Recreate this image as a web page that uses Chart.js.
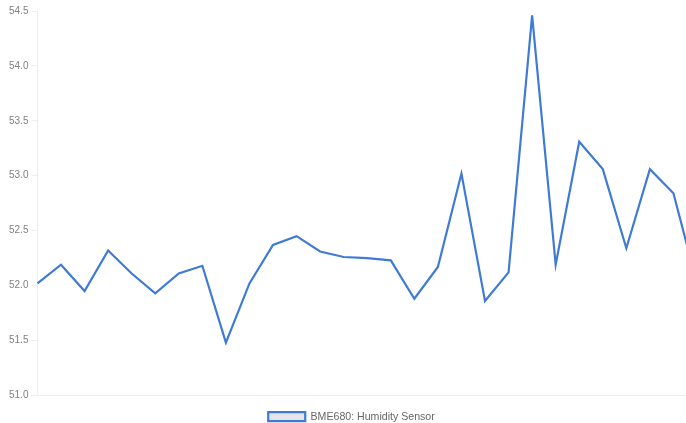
<!DOCTYPE html>
<html>
<head>
<meta charset="utf-8">
<script src="https://cdn.jsdelivr.net/npm/chart.js@4/dist/chart.umd.min.js"></script>
<style>
  html, body { margin: 0; padding: 0; background: #fff; overflow: hidden; }
  #wrap { position: relative; width: 700px; height: 432px; }
</style>
</head>
<body>
<div id="wrap"><canvas id="chart"></canvas></div>
<script>
// readings, left to right (the last one is cut off by the picture edge)
const labels = ['1', '2', '3', '4', '5', '6', '7', '8', '9', '10',
  '11', '12', '13', '14', '15', '16', '17', '18', '19', '20',
  '21', '22', '23', '24', '25', '26', '27', '28', '29'];
const humidity = [52.02, 52.19, 51.95, 52.32, 52.11, 51.93, 52.11, 52.18, 51.48, 52.02,
  52.37, 52.45, 52.31, 52.26, 52.25, 52.23, 51.88, 52.17, 53.02, 51.86,
  52.12, 54.46, 52.19, 53.31, 53.06, 52.34, 53.06, 52.84, 52.02];
const yTicks = [51.0, 51.5, 52.0, 52.5, 53.0, 53.5, 54.0, 54.5];

const chart = new Chart('chart', {
  type: 'line',
  data: {
    labels: labels,
    datasets: [{
      label: 'BME680: Humidity Sensor',
      data: humidity,
      borderColor: '#3f7bd6',
      backgroundColor: '#e6e6e6',
      borderWidth: 2.2,
      tension: 0,
      pointRadius: 0,
      fill: false,
    }],
  },
  options: {
    responsive: true,
    maintainAspectRatio: false,
    animation: false,
    layout: { padding: { top: 11, right: 3, left: 6 } },
    plugins: {
      legend: {
        position: 'bottom',
        labels: {
          boxWidth: 37,
          boxHeight: 9,
          padding: 16,
          color: '#666',
          font: { family: 'Arial, "Liberation Sans", sans-serif', size: 10.6 },
        },
      },
      tooltip: { enabled: false },
    },
    scales: {
      x: {
        ticks: { display: false },
        grid: { drawOnChartArea: false, drawTicks: false },
        border: { color: '#eeeeee' },
      },
      y: {
        min: 51.0,
        max: 54.5,
        afterBuildTicks: (axis) => {
          axis.ticks = yTicks.map((v) => ({ value: v }));
        },
        ticks: {
          color: '#808080',
          font: { family: 'Arial, "Liberation Sans", sans-serif', size: 10 },
          padding: 3,
          callback: (v) => Number(v).toFixed(1),
        },
        grid: { drawOnChartArea: false, tickLength: 6, color: '#eeeeee' },
        border: { color: '#eeeeee' },
      },
    },
  },
});
</script>
</body>
</html>
